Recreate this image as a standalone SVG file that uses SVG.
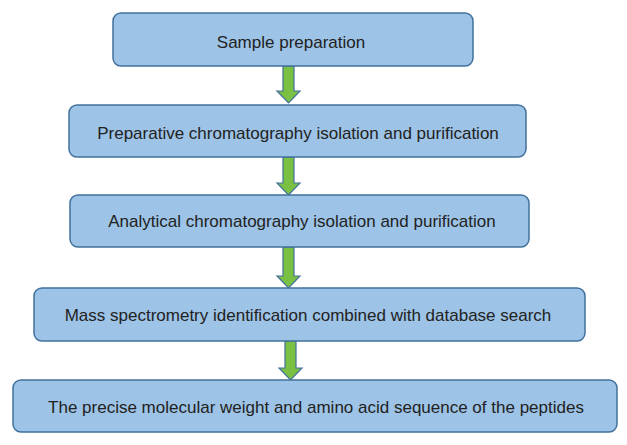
<svg xmlns="http://www.w3.org/2000/svg" width="627" height="445" viewBox="0 0 627 445">
<style>
.b{fill:#9dc3e6;stroke:#41719c;stroke-width:1.5}
.t{font-family:"Liberation Sans",Arial,sans-serif;font-size:17px;fill:#222;text-anchor:middle}
.a{fill:#7ac143;stroke:#41719c;stroke-width:1.2}
</style>
<rect width="627" height="445" fill="#fff"/>
<g id="connectors">
<polygon class="a" points="283,66 294,66 294,91 300,91 288.5,103 277,91 283,91"/>
<polygon class="a" points="283,157 294,157 294,183 300,183 288.5,195 277,183 283,183"/>
<polygon class="a" points="283,247 294,247 294,276 300,276 288.5,288 277,276 283,276"/>
<polygon class="a" points="285,341 296,341 296,368 302,368 290.5,380 279,368 285,368"/>
</g>
<g id="n1"><rect class="b" x="113" y="13" width="360" height="53" rx="8"/><text class="t" x="291" y="48">Sample preparation</text></g>
<g id="n2"><rect class="b" x="69" y="105" width="457" height="52" rx="8"/><text class="t" x="298" y="139">Preparative chromatography isolation and purification</text></g>
<g id="n3"><rect class="b" x="70" y="195" width="459" height="52" rx="8"/><text class="t" x="302" y="227">Analytical chromatography isolation and purification</text></g>
<g id="n4"><rect class="b" x="34" y="288" width="551" height="53" rx="8"/><text class="t" x="308" y="321">Mass spectrometry identification combined with database search</text></g>
<g id="n5"><rect class="b" x="13" y="380" width="604" height="52" rx="8"/><text class="t" x="316" y="413">The precise molecular weight and amino acid sequence of the peptides</text></g>
</svg>
